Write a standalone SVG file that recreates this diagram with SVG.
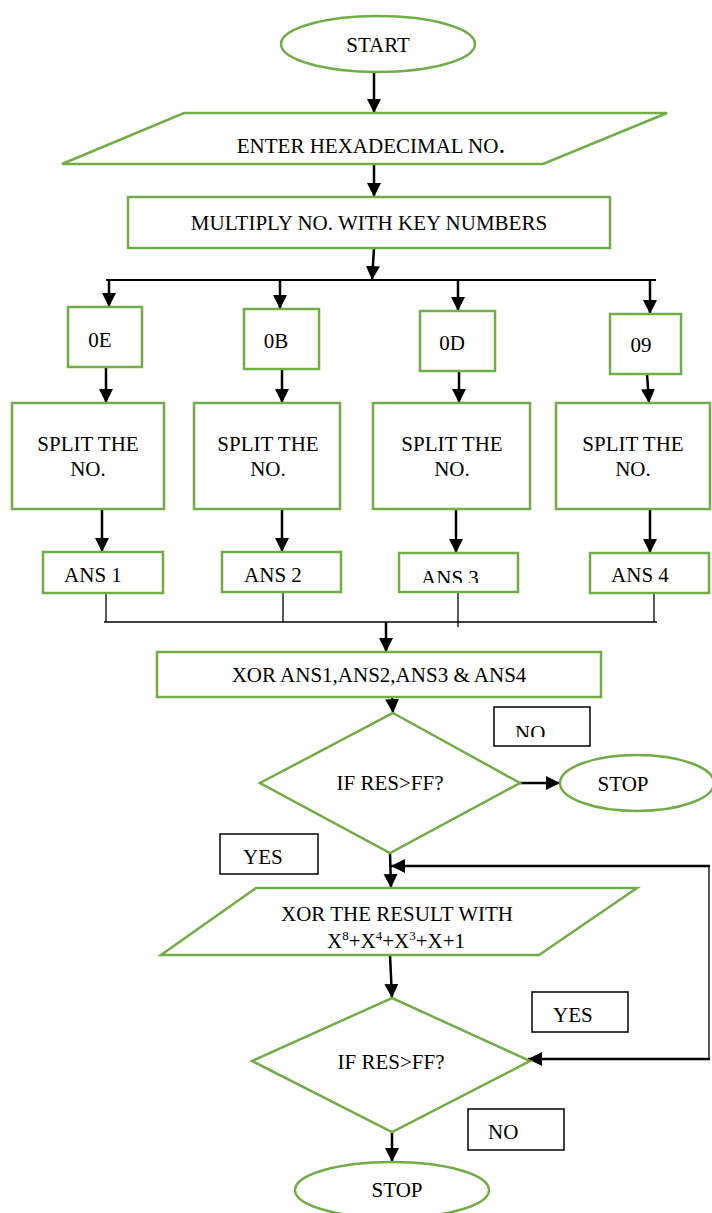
<svg xmlns="http://www.w3.org/2000/svg" width="712" height="1213" viewBox="0 0 712 1213">
<style>
.g{fill:#fff;stroke:#70AD47;stroke-width:2.5}
.lb{fill:#fff;stroke:#000;stroke-width:1.5}
.t{font-family:"Liberation Serif","Times New Roman",serif;font-size:21px;fill:#000}
.c{text-anchor:middle}
.a{fill:none;stroke:#000;stroke-width:2.5;marker-end:url(#ah)}
.th{fill:none;stroke:#000;stroke-width:1.3}
.md{fill:none;stroke:#000;stroke-width:2}
</style>
<defs>
<marker id="ah" markerUnits="userSpaceOnUse" markerWidth="14" markerHeight="16" viewBox="0 0 14 16" refX="14" refY="8" orient="auto">
<path d="M0,1 L14,8 L0,15 z" fill="#000"/>
</marker>
<clipPath id="clipNo"><rect x="494" y="707" width="96" height="30"/></clipPath>
<clipPath id="clipAns3"><rect x="399" y="553" width="119" height="30"/></clipPath>
</defs>
<rect width="712" height="1213" fill="#fff"/>

<g id="connectors">
<line class="a" x1="374" y1="72" x2="374" y2="113"/>
<line class="a" x1="374" y1="164" x2="374" y2="197"/>
<line class="a" x1="374" y1="248" x2="372" y2="280"/>
<line class="md" x1="106" y1="280" x2="656" y2="280"/>
<line class="a" x1="109" y1="280" x2="109" y2="307"/>
<line class="a" x1="280" y1="280" x2="280" y2="309"/>
<line class="a" x1="458" y1="280" x2="458" y2="311"/>
<line class="a" x1="650" y1="280" x2="650" y2="314"/>
<line class="a" x1="106" y1="367" x2="106" y2="403"/>
<line class="a" x1="282" y1="369" x2="282" y2="403"/>
<line class="a" x1="459" y1="371" x2="459" y2="403"/>
<line class="a" x1="647" y1="374" x2="649" y2="403"/>
<line class="a" x1="102" y1="509" x2="102" y2="552"/>
<line class="a" x1="282" y1="509" x2="282" y2="552"/>
<line class="a" x1="456" y1="509" x2="456" y2="553"/>
<line class="a" x1="650" y1="509" x2="650" y2="553"/>
<line class="th" x1="106" y1="593" x2="106" y2="622"/>
<line class="th" x1="283" y1="592" x2="283" y2="622"/>
<line class="th" x1="458" y1="592" x2="458" y2="627"/>
<line class="th" x1="654" y1="593" x2="654" y2="622"/>
<line class="th" x1="104" y1="622" x2="657" y2="622"/>
<line class="a" x1="386" y1="622" x2="386" y2="652"/>
<line class="a" x1="392" y1="697" x2="393" y2="713"/>
<line class="a" x1="515" y1="783" x2="560" y2="783"/>
<line class="a" x1="390" y1="853" x2="391" y2="888"/>
<line class="a" x1="710" y1="866" x2="391" y2="866"/>
<line class="th" x1="709" y1="866" x2="709" y2="1059"/>
<line class="a" x1="710" y1="1059" x2="528" y2="1059"/>
<line class="a" x1="390" y1="955" x2="392" y2="998"/>
<line class="a" x1="392" y1="1132" x2="392" y2="1162"/>
</g>

<g id="start"><ellipse class="g" cx="378" cy="44" rx="97" ry="28"/><text class="t c" x="378" y="52">START</text></g>
<g id="enter"><polygon class="g" points="184,113 667,113 543,164 62,164"/><text class="t c" x="371" y="153">ENTER HEXADECIMAL NO<tspan font-size="27">.</tspan></text></g>
<g id="multiply"><rect class="g" x="128" y="197" width="482" height="51"/><text class="t c" x="369" y="230">MULTIPLY NO. WITH KEY NUMBERS</text></g>

<g id="k0E"><rect class="g" x="68" y="307" width="74" height="60"/><text class="t c" x="100" y="347">0E</text></g>
<g id="k0B"><rect class="g" x="244" y="309" width="75" height="60"/><text class="t c" x="276" y="348">0B</text></g>
<g id="k0D"><rect class="g" x="420" y="311" width="75" height="60"/><text class="t c" x="452" y="350">0D</text></g>
<g id="k09"><rect class="g" x="610" y="314" width="71" height="60"/><text class="t c" x="641" y="352">09</text></g>

<g id="split1"><rect class="g" x="12" y="403" width="152" height="106"/><text class="t c" x="88" y="451">SPLIT THE</text><text class="t c" x="88" y="476">NO.</text></g>
<g id="split2"><rect class="g" x="194" y="403" width="146" height="106"/><text class="t c" x="268" y="451">SPLIT THE</text><text class="t c" x="268" y="476">NO.</text></g>
<g id="split3"><rect class="g" x="373" y="403" width="157" height="106"/><text class="t c" x="452" y="451">SPLIT THE</text><text class="t c" x="452" y="476">NO.</text></g>
<g id="split4"><rect class="g" x="556" y="403" width="154" height="106"/><text class="t c" x="633" y="451">SPLIT THE</text><text class="t c" x="633" y="476">NO.</text></g>

<g id="ans1"><rect class="g" x="43" y="552" width="120" height="41"/><text class="t c" x="93" y="582">ANS 1</text></g>
<g id="ans2"><rect class="g" x="222" y="552" width="119" height="40"/><text class="t c" x="273" y="582">ANS 2</text></g>
<g id="ans3"><rect class="g" x="399" y="553" width="119" height="39"/><text class="t c" x="450" y="585" clip-path="url(#clipAns3)">ANS 3</text></g>
<g id="ans4"><rect class="g" x="590" y="553" width="119" height="40"/><text class="t c" x="640" y="582">ANS 4</text></g>

<g id="xor"><rect class="g" x="157" y="652" width="444" height="45"/><text class="t c" x="379" y="682">XOR ANS1,ANS2,ANS3 &amp; ANS4</text></g>

<g id="decision1"><polygon class="g" points="393,713 520,783 390,853 260,783"/><text class="t c" x="390" y="790">IF RES&gt;FF?</text></g>
<g id="no1"><rect class="lb" x="494" y="707" width="96" height="39"/><text class="t" x="515" y="740" clip-path="url(#clipNo)">NO</text></g>
<g id="stop1"><ellipse class="g" cx="637" cy="783" rx="77" ry="28"/><text class="t c" x="623" y="791">STOP</text></g>
<g id="yes1"><rect class="lb" x="220" y="834" width="98" height="40"/><text class="t" x="243" y="864">YES</text></g>

<g id="xorpoly"><polygon class="g" points="256,888 637,888 539,955 161,955"/><text class="t c" x="397" y="921">XOR THE RESULT WITH</text><text class="t c" x="396" y="948">X<tspan font-size="13" dy="-8">8</tspan><tspan dy="8">+X</tspan><tspan font-size="13" dy="-8">4</tspan><tspan dy="8">+X</tspan><tspan font-size="13" dy="-8">3</tspan><tspan dy="8">+X+1</tspan></text></g>

<g id="decision2"><polygon class="g" points="392,998 530,1061 392,1132 252,1061"/><text class="t c" x="391" y="1069">IF RES&gt;FF?</text></g>
<g id="yes2"><rect class="lb" x="532" y="992" width="96" height="40"/><text class="t" x="553" y="1022">YES</text></g>
<g id="no2"><rect class="lb" x="468" y="1109" width="96" height="41"/><text class="t" x="488" y="1139">NO</text></g>
<g id="stop2"><ellipse class="g" cx="392" cy="1190" rx="97" ry="28"/><text class="t c" x="397" y="1197">STOP</text></g>
</svg>
